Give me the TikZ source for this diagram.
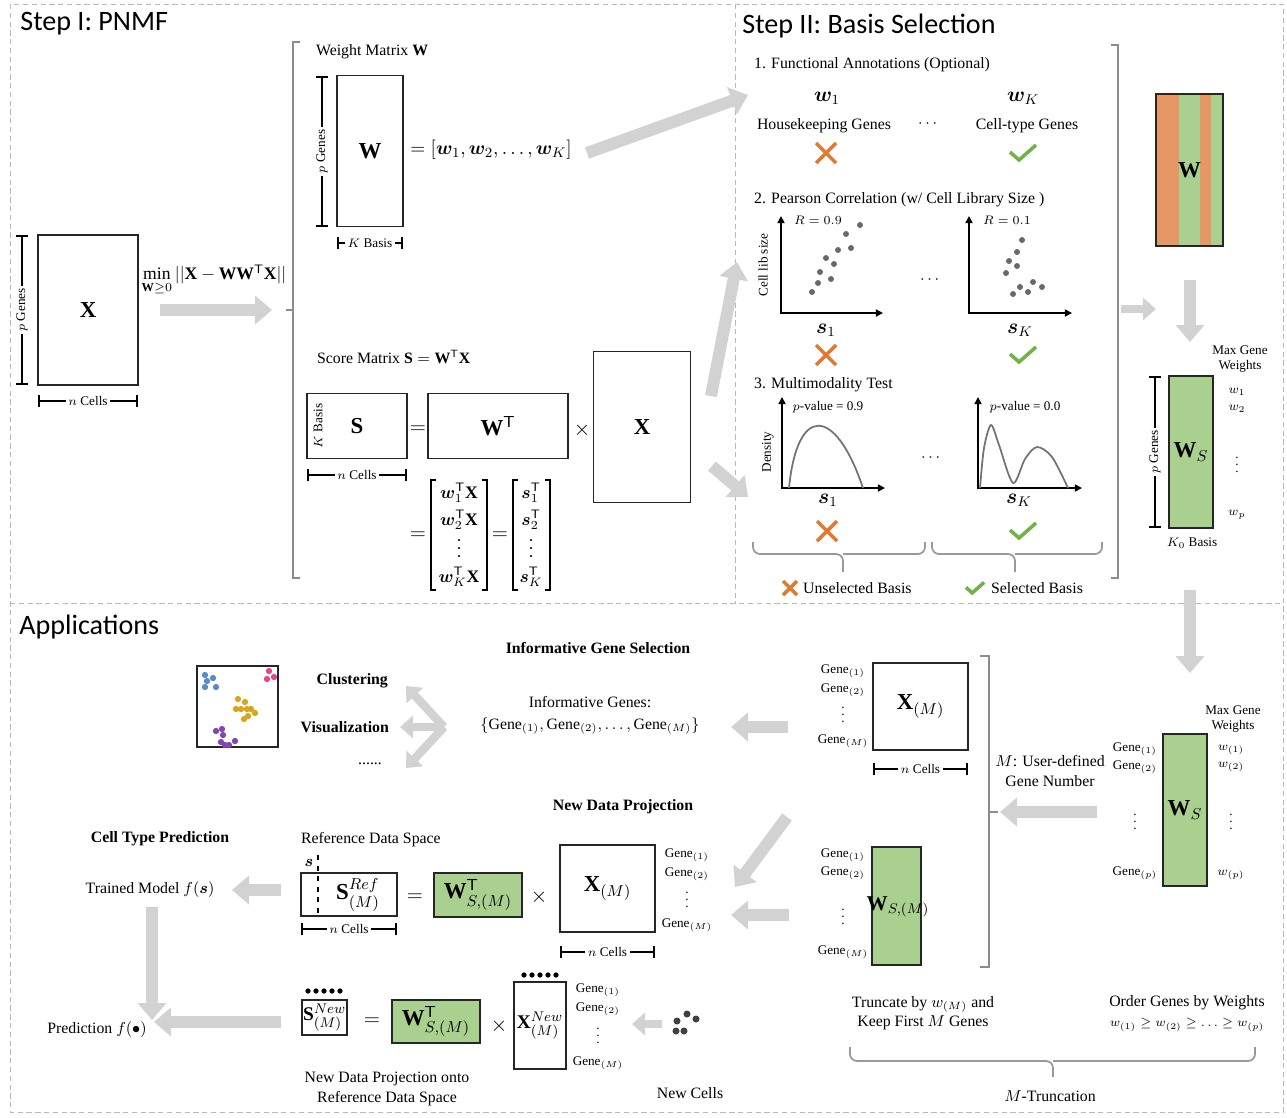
\documentclass[tikz,border=0pt]{standalone}
\usepackage{fontspec}
\setmainfont{Liberation Serif}
\newfontfamily\headfont{Carlito}
\usepackage{amsmath}
\usepackage{bm}
\usetikzlibrary{arrows.meta, positioning}
\definecolor{zarrow}{RGB}{210,210,210}
\definecolor{zpanel}{RGB}{185,185,185}
\definecolor{zgreen}{RGB}{169,208,142}
\definecolor{zorange}{RGB}{229,151,100}
\definecolor{zcross}{RGB}{226,120,50}
\definecolor{zcheck}{RGB}{112,178,72}
\definecolor{zdot}{RGB}{105,105,105}
\definecolor{zblue}{RGB}{91,140,200}
\definecolor{zpink}{RGB}{228,70,140}
\definecolor{zgold}{RGB}{215,165,30}
\definecolor{zpurple}{RGB}{130,70,180}

\begin{document}
\begin{tikzpicture}[x=0.02cm, y=-0.02cm,
  panel/.style={draw=zpanel, dash pattern=on 3pt off 2pt, line width=0.5pt},
  headtxt/.style={font=\headfont\fontsize{16}{18}\selectfont, anchor=west, inner sep=0pt},
  txt/.style={font=\fontsize{9}{11}\selectfont, align=center, inner sep=1pt},
  boldtxt/.style={font=\fontsize{9}{11}\selectfont\bfseries, align=center, inner sep=1pt},
  smalltxt/.style={font=\fontsize{7.5}{8.5}\selectfont, align=center, inner sep=1pt},
  eqtxt/.style={font=\fontsize{12}{14}\selectfont, inner sep=0pt},
  rowtxt/.style={font=\fontsize{10}{11}\selectfont, inner sep=0pt},
  mat/.style={rectangle, draw=black!85, line width=0.9pt, inner sep=0pt,
              font=\fontsize{13}{15}\selectfont\bfseries},
  gmat/.style={mat, fill=zgreen},
  dimbar/.style={arrows={Bar[width=7pt]-Bar[width=7pt]}, line width=1pt},
  dimlab/.style={smalltxt, fill=white, inner sep=1.5pt},
  brk/.style={draw=black!45, line width=0.9pt},
  sqbr/.style={draw=black, line width=0.8pt},
  brc/.style={draw=black!40, line width=1pt, rounded corners=4pt},
  bigarr/.style={-{Triangle[length=0.34cm, width=0.56cm]}, line width=0.24cm, draw=zarrow},
  midarr/.style={-{Triangle[length=0.26cm, width=0.44cm]}, line width=0.17cm, draw=zarrow},
  axisline/.style={arrows={Triangle[length=4pt, width=4pt]-Triangle[length=4pt, width=4pt]}, line width=0.9pt},
  curve/.style={draw=black!55, line width=1pt},
  xmark/.pic={\draw[zcross, line width=2pt] (-10,-10) -- (10,10) (-10,10) -- (10,-10);},
  okmark/.pic={\draw[zcheck, line width=2pt] (-13,-1) -- (-4,7) -- (13,-8);}
]
\useasboundingbox (0,0) rectangle (1287,1117);

% Panels and titles
\draw[panel] (10,4) rectangle (1283,1112);
\draw[panel] (735,4) -- (735,603);
\draw[panel] (10,603) -- (1283,603);
\node[headtxt] (ttlA) at (20,24) {Step I: PNMF};
\node[headtxt] (ttlB) at (742,26) {Step II: Basis Selection};
\node[headtxt] (ttlC) at (19,627) {Applications};

% Step I: input matrix and objective
\node[mat, minimum width=2cm, minimum height=3cm] (xin) at (88,310) {X};
\draw[dimbar] (22,235) -- (22,385) node[dimlab, midway, rotate=90] (xinP) {$p$ Genes};
\draw[dimbar] (38,401) -- (138,401) node[dimlab, midway] (xinN) {$n$ Cells};
\node[eqtxt, font=\fontsize{10}{12}\selectfont] (minlab) at (214,280)
  {$\min\limits_{\mathbf{W}\geq 0}||\mathbf{X}-\mathbf{W}\mathbf{W}^{\mathsf{T}}\mathbf{X}||$};
\coordinate (a1s) at (160,310);
\coordinate (a1e) at (272,310);
\draw[bigarr] (a1s) -- (a1e);
\draw[brk] (300,42) -- (293,42) -- (293,578) -- (300,578);
\draw[brk] (286,310) -- (293,310);

% Weight matrix
\node[txt, anchor=west] (wtitle) at (314,52) {Weight Matrix $\mathbf{W}$};
\node[mat, minimum width=1.32cm, minimum height=3.02cm] (wmat) at (370,151) {W};
\draw[dimbar] (322,76) -- (322,227) node[dimlab, midway, rotate=90] (wP) {$p$ Genes};
\draw[dimbar] (337,243) -- (403,243) node[dimlab, midway] (wK) {$K$ Basis};
\node[eqtxt, anchor=west, font=\fontsize{11}{13}\selectfont] (weq) at (410,150) {$=[\bm{w}_1,\bm{w}_2,\ldots,\bm{w}_K]$};
\coordinate (a2s) at (587,153);
\coordinate (a2e) at (748,95);
\draw[bigarr] (a2s) -- (a2e);

% Score matrix
\node[txt, anchor=west] (stitle) at (315,357) {Score Matrix $\mathbf{S}=\mathbf{W}^{\mathsf{T}}\mathbf{X}$};
\node[mat, minimum width=2cm, minimum height=1.3cm] (smat) at (357,426) {S};
\node[smalltxt, rotate=90] (sK) at (318,426) {$K$ Basis};
\draw[dimbar] (307,475) -- (407,475) node[dimlab, midway] (sN) {$n$ Cells};
\node[eqtxt] (eq1) at (418,430) {$=$};
\node[mat, minimum width=2.8cm, minimum height=1.3cm] (wtmat) at (498,426) {$\mathbf{W}^{\mathsf{T}}$};
\node[eqtxt] (times1) at (582,430) {$\times$};
\node[mat, minimum width=1.94cm, minimum height=3.02cm] (xmat) at (642,427) {X};

% columns of S, one node per row, brackets drawn by hand
\node[eqtxt] (eqA) at (418,536) {$=$};
\node[rowtxt] (cw1) at (459,493) {$\bm{w}_1^{\mathsf{T}}\mathbf{X}$};
\node[rowtxt] (cw2) at (459,520) {$\bm{w}_2^{\mathsf{T}}\mathbf{X}$};
\node[rowtxt] (cw3) at (459,577) {$\bm{w}_K^{\mathsf{T}}\mathbf{X}$};
\node[eqtxt] (eqB) at (500,536) {$=$};
\node[rowtxt] (cs1) at (531,493) {$\bm{s}_1^{\mathsf{T}}$};
\node[rowtxt] (cs2) at (531,520) {$\bm{s}_2^{\mathsf{T}}$};
\node[rowtxt] (cs3) at (531,577) {$\bm{s}_K^{\mathsf{T}}$};
\foreach \cx in {459, 531}
  \foreach \cy in {540, 548, 556}
    \fill (\cx,\cy) circle (0.7pt);
\draw[sqbr] (436,480) -- (431,480) -- (431,590) -- (436,590);
\draw[sqbr] (482,480) -- (487,480) -- (487,590) -- (482,590);
\draw[sqbr] (518,480) -- (513,480) -- (513,590) -- (518,590);
\draw[sqbr] (545,480) -- (550,480) -- (550,590) -- (545,590);
\coordinate (a3s) at (711,396);
\coordinate (a3e) at (737,262);
\draw[bigarr] (a3s) -- (a3e);
\coordinate (a4s) at (712,466);
\coordinate (a4e) at (748,497);
\draw[bigarr] (a4s) -- (a4e);

% Step II: 1. functional annotations
\node[txt, anchor=west] (fa) at (752,65) {1. Functional Annotations (Optional)};
\node[eqtxt] (fw1) at (827,98) {$\bm{w}_1$};
\node[eqtxt] (fwK) at (1023,98) {$\bm{w}_K$};
\node[txt] (hk) at (824,126) {Housekeeping Genes};
\node[txt] (fdots) at (929,124) {$\cdots$};
\node[txt] (ct) at (1027,126) {Cell-type Genes};
\pic at (826,153) {xmark};
\pic at (1023,153) {okmark};

% Step II: 2. Pearson correlation
\node[txt, anchor=west] (pc) at (752,200) {2. Pearson Correlation (w/ Cell Library Size )};
\draw[axisline] (781,216) -- (781,313) -- (883,313);
\node[smalltxt] (r1) at (818,220) {$R=0.9$};
\node[smalltxt, rotate=90] (cls) at (763,265) {Cell lib size};
\foreach \px/\py in {812/292, 818/283, 820/272, 831/279, 826/258, 834/264, 838/250, 846/234, 851/248, 860/225}
  \fill[zdot] (\px,\py) circle (1.7pt);
\node[eqtxt] (ps1) at (826,330) {$\bm{s}_1$};
\pic at (826,355) {xmark};
\node[txt] (pdots) at (931,280) {$\cdots$};
\draw[axisline] (969,216) -- (969,313) -- (1072,313);
\node[smalltxt] (r2) at (1007,220) {$R=0.1$};
\foreach \px/\py in {1022/240, 1017/252, 1009/261, 1017/266, 1006/273, 1020/287, 1033/282, 1042/287, 1028/292, 1013/294}
  \fill[zdot] (\px,\py) circle (1.7pt);
\node[eqtxt] (psK) at (1020,330) {$\bm{s}_K$};
\pic at (1023,355) {okmark};

% Step II: 3. multimodality test
\node[txt, anchor=west] (mm) at (752,385) {3. Multimodality Test};
\draw[axisline] (782,397) -- (782,488) -- (885,488);
\node[smalltxt] (pv1) at (828,407) {$p$-value = 0.9};
\node[smalltxt, rotate=90] (dens) at (768,452) {Density};
\draw[curve] (789,488) .. controls (797,405) and (835,405) .. (863,488);
\node[eqtxt] (ms1) at (828,500) {$\bm{s}_1$};
\pic at (827,531) {xmark};
\node[txt] (mdots) at (932,458) {$\cdots$};
\draw[axisline] (978,397) -- (978,488) -- (1082,488);
\node[smalltxt] (pv2) at (1025,407) {$p$-value = 0.0};
\draw[curve] plot[smooth] coordinates {(980,488) (984,448) (991,425) (999,445) (1013,483) (1025,459) (1037,447) (1052,457) (1068,488)};
\node[eqtxt] (msK) at (1019,500) {$\bm{s}_K$};
\pic at (1023,531) {okmark};

% Selection braces and legend
\draw[brc] (753,542) -- (753,554) -- (843,554) -- (843,572);
\draw[brc] (843,554) -- (925,554) -- (925,542);
\draw[brc] (932,542) -- (932,554) -- (1015,554) -- (1015,572);
\draw[brc] (1015,554) -- (1102,554) -- (1102,542);
\pic[scale=0.7] at (790,588) {xmark};
\node[txt, anchor=west] (unsel) at (801,588) {Unselected Basis};
\pic[scale=0.7] at (975,588) {okmark};
\node[txt, anchor=west] (sel) at (989,588) {Selected Basis};
\draw[brk] (1111,45) -- (1118,45) -- (1118,578) -- (1111,578);
\coordinate (a5s) at (1121,309);
\coordinate (a5e) at (1156,309);
\draw[midarr] (a5s) -- (a5e);

% Right column: coloured W and selected W_S
\fill[zgreen] (1156,94) rectangle (1223,246);
\fill[zorange] (1156,94) rectangle (1179,246);
\fill[zorange] (1200,94) rectangle (1211,246);
\node[mat, minimum width=1.34cm, minimum height=3.04cm] (wcol) at (1189.5,170) {W};
\coordinate (a6s) at (1190,280);
\coordinate (a6e) at (1190,342);
\draw[bigarr] (a6s) -- (a6e);
\node[smalltxt] (mgw1) at (1240,359) {Max Gene\\Weights};
\node[gmat, minimum width=0.88cm, minimum height=3.04cm] (wsmat) at (1191,452) {$\mathbf{W}_{S}$};
\draw[dimbar] (1155,376) -- (1155,528) node[dimlab, midway, rotate=90] (wsP) {$p$ Genes};
\node[smalltxt] (k0) at (1192,543) {$K_0$ Basis};
\node[smalltxt] (ws1) at (1237,392) {$w_1$};
\node[smalltxt] (ws2) at (1237,409) {$w_2$};
\node[smalltxt] (wsd) at (1237,460) {$\vdots$};
\node[smalltxt] (wsp) at (1237,515) {$w_p$};
\coordinate (a7s) at (1190,590);
\coordinate (a7e) at (1190,673);
\draw[bigarr] (a7s) -- (a7e);

% Applications: clustering / visualization
\node[mat, minimum width=1.62cm, minimum height=1.62cm] (umap) at (237.5,706.5) {};
\foreach \px/\py in {205/675, 213/678, 207/681, 205/687, 216/687}
  \fill[zblue] (\px,\py) circle (1.8pt);
\foreach \px/\py in {269/671, 267/679, 274/677}
  \fill[zpink] (\px,\py) circle (1.8pt);
\foreach \px/\py in {238/699, 245/702, 236/709, 241/709, 247/709, 251/709, 255/713, 248/716, 244/719}
  \fill[zgold] (\px,\py) circle (1.8pt);
\foreach \px/\py in {216/731, 222/729, 223/735, 221/742, 225/745, 229/745, 235/741}
  \fill[zpurple] (\px,\py) circle (1.8pt);
\node[boldtxt, anchor=east] (clu) at (390,681) {Clustering};
\node[boldtxt, anchor=east] (vis) at (391,727) {Visualization};
\node[txt] (appdots) at (370,764) {......};
\coordinate (hub) at (444,727);
\coordinate (huba) at (406,686);
\coordinate (hubb) at (400,727);
\coordinate (hubc) at (406,768);
\draw[midarr] (hub) -- (huba);
\draw[midarr] (hub) -- (hubb);
\draw[midarr] (hub) -- (hubc);

% Informative gene selection
\node[boldtxt] (igs) at (598,648) {Informative Gene Selection};
\node[txt, font=\fontsize{9}{12.5}\selectfont] (ig) at (590,715)
  {Informative Genes:\\$\{\text{Gene}_{(1)},\text{Gene}_{(2)},\ldots,\text{Gene}_{(M)}\}$};
\coordinate (a8s) at (788,727);
\coordinate (a8e) at (731,727);
\draw[bigarr] (a8s) -- (a8e);

% M-truncation block
\node[mat, minimum width=1.9cm, minimum height=1.74cm] (xm1) at (920.5,706.5) {$\mathbf{X}_{(M)}$};
\node[smalltxt] (xm1a) at (843,671) {Gene$_{(1)}$};
\node[smalltxt] (xm1b) at (843,690) {Gene$_{(2)}$};
\node[smalltxt] (xm1c) at (843,710) {$\vdots$};
\node[smalltxt] (xm1d) at (843,741) {Gene$_{(M)}$};
\draw[dimbar] (873,769) -- (968,769) node[dimlab, midway] (xm1n) {$n$ Cells};
\node[gmat, minimum width=0.98cm, minimum height=2.36cm] (wsm3) at (896.5,906) {};
\node[mat, draw=none, font=\fontsize{12}{14}\selectfont] (wsm3l) at (898,907) {$\mathbf{W}_{S,(M)}$};
\node[smalltxt] (wsm3a) at (843,855) {Gene$_{(1)}$};
\node[smalltxt] (wsm3b) at (843,873) {Gene$_{(2)}$};
\node[smalltxt] (wsm3c) at (843,912) {$\vdots$};
\node[smalltxt] (wsm3d) at (843,952) {Gene$_{(M)}$};
\draw[brk] (980,656) -- (989,656) -- (989,967) -- (980,967);
\draw[brk] (989,812) -- (998,812);
\coordinate (a9s) at (1097,812);
\coordinate (a9e) at (1000,812);
\draw[bigarr] (a9s) -- (a9e);
\node[txt, font=\fontsize{9}{11}\selectfont] (udef) at (1050,771) {$M$: User-defined\\Gene Number};
\node[gmat, minimum width=0.88cm, minimum height=3.04cm] (wsm2) at (1185,810) {$\mathbf{W}_{S}$};
\node[smalltxt] (mgw2) at (1233,719) {Max Gene\\Weights};
\node[smalltxt] (wsm2a) at (1135,749) {Gene$_{(1)}$};
\node[smalltxt] (wsm2b) at (1135,767) {Gene$_{(2)}$};
\node[smalltxt] (wsm2c) at (1135,817) {$\vdots$};
\node[smalltxt] (wsm2d) at (1135,873) {Gene$_{(p)}$};
\node[smalltxt] (wsm2e) at (1231,750) {$w_{(1)}$};
\node[smalltxt] (wsm2f) at (1231,767) {$w_{(2)}$};
\node[smalltxt] (wsm2g) at (1231,817) {$\vdots$};
\node[smalltxt] (wsm2h) at (1231,875) {$w_{(p)}$};
\node[txt] (trunc) at (923,1013) {Truncate by $w_{(M)}$ and\\Keep First $M$ Genes};
\node[txt] (order) at (1187,1003) {Order Genes by Weights};
\node[smalltxt] (orderw) at (1187,1025) {$w_{(1)}\geq w_{(2)}\geq\ldots\geq w_{(p)}$};
\draw[brc] (850,1047) -- (850,1061) -- (1053,1061) -- (1053,1077);
\draw[brc] (1053,1061) -- (1255,1061) -- (1255,1047);
\node[txt] (mtrunc) at (1050,1096) {$M$-Truncation};

% New data projection
\node[boldtxt] (ndp) at (623,807) {New Data Projection};
\coordinate (a10s) at (787,817);
\coordinate (a10e) at (735,887);
\draw[bigarr] (a10s) -- (a10e);
\coordinate (a11s) at (789,915);
\coordinate (a11e) at (731,915);
\draw[bigarr] (a11s) -- (a11e);
\node[txt, anchor=west] (rds) at (299,840) {Reference Data Space};
\node[mat, minimum width=1.92cm, minimum height=0.86cm] (sref) at (349,894.5) {};
\draw[dashed, line width=0.6pt] (318,855) -- (318,916);
\node[eqtxt, font=\fontsize{9}{11}\selectfont] (srefs) at (309,863) {$\bm{s}$};
\node[mat, draw=none] (srefl) at (358,895) {$\mathbf{S}_{(M)}^{Ref}$};
\draw[dimbar] (301,929) -- (397,929) node[dimlab, midway] (srefn) {$n$ Cells};
\node[eqtxt] (eq3) at (415,898) {$=$};
\node[gmat, minimum width=1.76cm, minimum height=0.88cm] (wtm1) at (478,895) {$\mathbf{W}_{S,(M)}^{\mathsf{T}}$};
\node[eqtxt] (times2) at (539,897) {$\times$};
\node[mat, minimum width=1.9cm, minimum height=1.74cm] (xm2) at (607.5,888.5) {$\mathbf{X}_{(M)}$};
\node[smalltxt] (xm2a) at (687,855) {Gene$_{(1)}$};
\node[smalltxt] (xm2b) at (687,874) {Gene$_{(2)}$};
\node[smalltxt] (xm2c) at (687,895) {$\vdots$};
\node[smalltxt] (xm2d) at (687,925) {Gene$_{(M)}$};
\draw[dimbar] (560,952) -- (655,952) node[dimlab, midway] (xm2n) {$n$ Cells};

% New cells onto reference space
\node[mat, minimum width=0.9cm, minimum height=0.7cm, font=\fontsize{11}{13}\selectfont] (snew) at (324.5,1017.5) {$\mathbf{S}_{(M)}^{New}$};
\foreach \k in {0,...,4}
  \fill (308+\k*8,991) circle (1.5pt);
\node[eqtxt] (eq4) at (372,1022) {$=$};
\node[gmat, minimum width=1.76cm, minimum height=0.86cm] (wtm2) at (436,1021.5) {$\mathbf{W}_{S,(M)}^{\mathsf{T}}$};
\node[eqtxt] (times3) at (499,1026) {$\times$};
\node[mat, minimum width=1.04cm, minimum height=1.74cm, font=\fontsize{11}{13}\selectfont] (xnew) at (540,1025.5) {$\mathbf{X}_{(M)}^{New}$};
\foreach \k in {0,...,4}
  \fill (524+\k*8,975) circle (1.5pt);
\node[smalltxt] (xnewa) at (598,990) {Gene$_{(1)}$};
\node[smalltxt] (xnewb) at (598,1009) {Gene$_{(2)}$};
\node[smalltxt] (xnewc) at (598,1031) {$\vdots$};
\node[smalltxt] (xnewd) at (598,1063) {Gene$_{(M)}$};
\coordinate (a15s) at (662,1024);
\coordinate (a15e) at (632,1024);
\draw[midarr] (a15s) -- (a15e);
\foreach \px/\py in {687/1014, 696/1019, 677/1021, 676/1031, 684/1031}
  \fill[black!75] (\px,\py) circle (2pt);
\node[txt] (newc) at (690,1093) {New Cells};
\node[txt] (ndpo) at (387,1089) {New Data Projection onto\\Reference Data Space};

% Cell type prediction
\node[boldtxt] (ctp) at (160,839) {Cell Type Prediction};
\node[txt] (tm) at (150,890) {Trained Model $f(\bm{s})$};
\coordinate (a12s) at (281,890);
\coordinate (a12e) at (232,890);
\draw[bigarr] (a12s) -- (a12e);
\coordinate (a13s) at (152,907);
\coordinate (a13e) at (152,1020);
\draw[bigarr] (a13s) -- (a13e);
\coordinate (a14s) at (281,1022);
\coordinate (a14e) at (154,1022);
\draw[bigarr] (a14s) -- (a14e);
\node[txt] (pred) at (97,1030) {Prediction $f(\bullet)$};

\end{tikzpicture}
\end{document}
